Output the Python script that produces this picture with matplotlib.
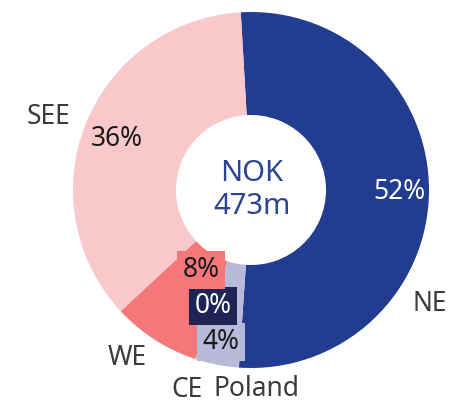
import matplotlib
matplotlib.use("Agg")
import matplotlib.pyplot as plt

plt.rcParams['font.family'] = ['Noto Sans', 'DejaVu Sans']

# Data (clockwise from top)
regions = ['NE', 'Poland', 'CE', 'WE', 'SEE']
shares = [52, 4, 0, 8, 36]
colors = ['#223d8f', '#b9bad9', '#1f2356', '#f4777a', '#f8c8cb']
total_label = 'NOK\n473m'

# pixel geometry of the reference
W, H = 449, 405
cx, cy, R = 251, 190, 178


def px(x, y):
    # pixel position -> data coords (pie radius = 1)
    return (x - cx) / R, (cy - y) / R


fig = plt.figure(figsize=(W / 100, H / 100), dpi=100)
ax = fig.add_axes([0, 0, 1, 1])

wedges, _ = ax.pie(shares, colors=colors, startangle=93.3, counterclock=False,
                   radius=1, wedgeprops=dict(width=1 - 75 / R, linewidth=0))
ax.set_aspect('auto')
ax.set_xlim(-cx / R, (W - cx) / R)
ax.set_ylim(-(H - cy) / R, cy / R)
ax.axis('off')

# category labels
label_pos = {'NE': (430, 304), 'Poland': (257, 389), 'CE': (187, 390),
             'WE': (127, 358), 'SEE': (48, 117)}
for name in regions:
    x, y = px(*label_pos[name])
    ax.text(x, y, name, ha='center', va='center', fontsize=19, color='#3b3b3b')

# percentage labels
pct_pos = {'NE': (399, 192), 'Poland': (221, 342), 'CE': (213, 306),
           'WE': (201, 270), 'SEE': (117, 139)}
pct_col = {'NE': 'white', 'Poland': '#1a1a1a', 'CE': 'white',
           'WE': '#1a1a1a', 'SEE': '#1a1a1a'}
boxed = ['Poland', 'CE', 'WE']
for name, val, col in zip(regions, shares, colors):
    x, y = px(*pct_pos[name])
    bbox = dict(boxstyle='square,pad=0.2', fc=col, ec='none') if name in boxed else None
    ax.text(x, y, f'{val}%', ha='center', va='center', fontsize=19,
            color=pct_col[name], bbox=bbox)

x, y = px(252, 190)
ax.text(x, y, total_label, ha='center', va='center', fontsize=21,
        color='#2b4594', linespacing=1.15)

fig.savefig('out.png', dpi=100)
